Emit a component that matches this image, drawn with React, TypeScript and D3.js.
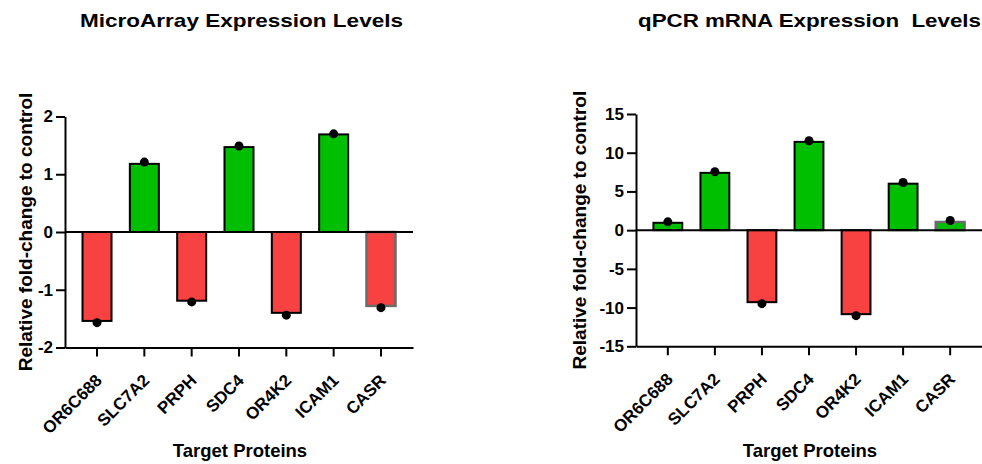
import React, { useEffect, useRef } from 'react';
import * as d3 from 'd3';

const targets = ['OR6C688', 'SLC7A2', 'PRPH', 'SDC4', 'OR4K2', 'ICAM1', 'CASR'];
const microArrayBars = [-1.54, 1.18, -1.19, 1.47, -1.4, 1.69, -1.28];
const microArrayPoints = [-1.57, 1.21, -1.21, 1.49, -1.44, 1.7, -1.31];
const microArrayTicks = [-2, -1, 0, 1, 2];
const qpcrBars = [0.95, 7.4, -9.3, 11.4, -10.85, 6.0, 1.05];
const qpcrPoints = [1.07, 7.54, -9.49, 11.55, -11.04, 6.16, 1.24];
const qpcrTicks = [-15, -10, -5, 0, 5, 10, 15];
const outlinedGrey = 'CASR';

const font = '"Liberation Sans", Arial, sans-serif';
const green = '#00bf00';
const red = '#f84242';

const drawPanel = (svg, opts) => {
    const { title, titleX, titleLen, bars, points, ticks, x0, x1, yTop, yBottom, labelX } = opts;
    const g = svg.append('g');
    const x = d3.scaleBand()
        .domain(targets)
        .range([x0, x1])
        .paddingInner(0.387)
        .paddingOuter(0.37);
    const y = d3.scaleLinear()
        .domain([d3.min(ticks), d3.max(ticks)])
        .range([yBottom, yTop]);

    // title
    g.append('text')
        .attr('x', titleX)
        .attr('y', 27)
        .attr('font-family', font)
        .attr('font-weight', 'bold')
        .attr('font-size', 19)
        .attr('textLength', titleLen)
        .attr('lengthAdjust', 'spacingAndGlyphs')
        .style('white-space', 'pre')
        .text(title);

    // y axis label
    g.append('text')
        .attr('transform', `translate(${labelX}, ${(yTop + yBottom) / 2}) rotate(-90)`)
        .attr('text-anchor', 'middle')
        .attr('font-family', font)
        .attr('font-weight', 'bold')
        .attr('font-size', 19)
        .text('Relative fold-change to control');

    // x axis label
    g.append('text')
        .attr('x', (x0 + x1) / 2 + 1)
        .attr('y', 457)
        .attr('text-anchor', 'middle')
        .attr('font-family', font)
        .attr('font-weight', 'bold')
        .attr('font-size', 18.5)
        .text('Target Proteins');

    // bars
    g.selectAll('.bar')
        .data(bars)
        .enter().append('rect')
        .attr('class', 'bar')
        .attr('x', (d, i) => x(targets[i]))
        .attr('width', x.bandwidth())
        .attr('y', d => y(Math.max(0, d)))
        .attr('height', d => Math.abs(y(d) - y(0)))
        .attr('fill', d => (d >= 0 ? green : red))
        .attr('stroke', (d, i) => (targets[i] === outlinedGrey ? '#6b6b6b' : '#000'))
        .attr('stroke-width', (d, i) => (targets[i] === outlinedGrey ? 2.5 : 2));

    // zero line
    g.append('line')
        .attr('x1', x0).attr('x2', x1)
        .attr('y1', y(0)).attr('y2', y(0))
        .attr('stroke', '#000')
        .attr('stroke-width', 2);

    // points
    g.selectAll('.pt')
        .data(points)
        .enter().append('circle')
        .attr('class', 'pt')
        .attr('cx', (d, i) => x(targets[i]) + x.bandwidth() / 2)
        .attr('cy', d => y(d))
        .attr('r', 4.5)
        .attr('fill', '#000');

    // y axis
    const yAxis = g.append('g')
        .attr('transform', `translate(${x0}, 0)`)
        .call(d3.axisLeft(y).tickValues(ticks).tickFormat(d => String(d))
            .tickSize(9).tickPadding(3).tickSizeOuter(0));
    yAxis.select('.domain').attr('stroke-width', 2);
    yAxis.selectAll('line').attr('stroke-width', 2);
    yAxis.selectAll('text')
        .attr('font-family', font)
        .attr('font-weight', 'bold')
        .attr('font-size', 17)
        .attr('fill', '#000');

    // x axis
    const xAxis = g.append('g')
        .attr('transform', `translate(0, ${yBottom})`)
        .call(d3.axisBottom(x).tickSize(9).tickSizeOuter(0));
    xAxis.select('.domain').attr('stroke-width', 2);
    xAxis.selectAll('line').attr('stroke-width', 2);
    xAxis.selectAll('text')
        .attr('font-family', font)
        .attr('font-weight', 'bold')
        .attr('font-size', 17)
        .attr('fill', '#000')
        .attr('text-anchor', 'end')
        .attr('dy', null)
        .attr('y', 0)
        .attr('transform', 'translate(6, 34) rotate(-45)');
};

const App = () => {
    const svgRef = useRef(null);

    useEffect(() => {
        const svg = d3.select(svgRef.current);
        svg.selectAll('*').remove();
        drawPanel(svg, {
            title: 'MicroArray Expression Levels',
            titleX: 80, titleLen: 323,
            bars: microArrayBars, points: microArrayPoints, ticks: microArrayTicks,
            x0: 65, x1: 413, yTop: 116.5, yBottom: 347.5, labelX: 32
        });
        drawPanel(svg, {
            title: 'qPCR mRNA Expression  Levels',
            titleX: 638, titleLen: 343,
            bars: qpcrBars, points: qpcrPoints, ticks: qpcrTicks,
            x0: 636, x1: 982, yTop: 114, yBottom: 346.3, labelX: 586
        });
    }, []);

    return (
        <svg ref={svgRef} width={982} height={464}
            style={{ position: 'absolute', left: 0, top: 0, background: '#fff' }}></svg>
    );
};

export default App;
